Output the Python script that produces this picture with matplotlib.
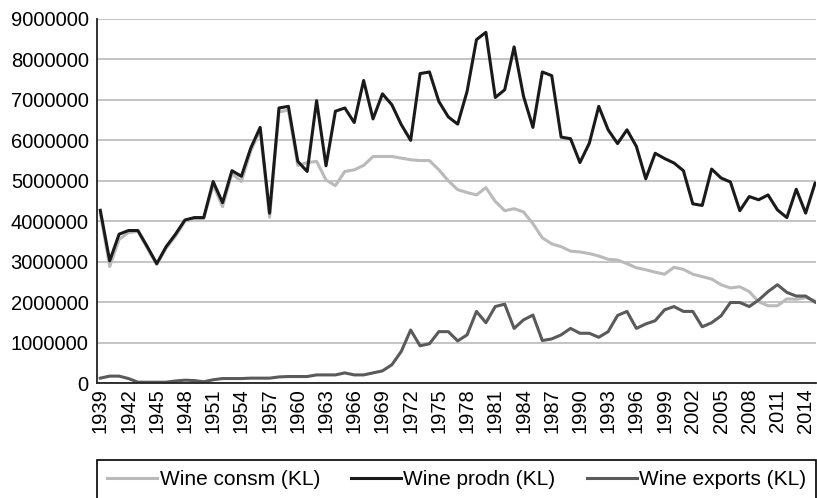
import numpy as np
import matplotlib
matplotlib.use("Agg")
import matplotlib.pyplot as plt

plt.rcParams['font.family'] = ['Liberation Sans', 'DejaVu Sans']

# years on the category axis
years = list(range(1939, 2016))

# values, in millions of KL
consm = [4.20, 2.88, 3.55, 3.72, 3.75, 3.33, 2.93, 3.33, 3.63, 4.00,
         4.07, 4.07, 4.90, 4.36, 5.18, 4.98, 5.74, 6.25, 4.10, 6.70,
         6.75, 5.38, 5.45, 5.48, 5.02, 4.88, 5.23, 5.27, 5.38, 5.60,
         5.60, 5.60, 5.56, 5.52, 5.50, 5.50, 5.27, 5.00, 4.78, 4.71,
         4.65, 4.83, 4.49, 4.26, 4.31, 4.23, 3.94, 3.59, 3.44, 3.37,
         3.26, 3.24, 3.20, 3.14, 3.06, 3.04, 2.95, 2.85, 2.80, 2.74,
         2.69, 2.86, 2.81, 2.69, 2.63, 2.57, 2.43, 2.35, 2.38, 2.26,
         2.01, 1.91, 1.91, 2.08, 2.07, 2.11, 2.03]

prodn = [4.27, 3.02, 3.68, 3.77, 3.77, 3.37, 2.95, 3.37, 3.68, 4.03,
         4.09, 4.09, 4.98, 4.46, 5.25, 5.11, 5.81, 6.32, 4.20, 6.80,
         6.84, 5.48, 5.23, 6.98, 5.37, 6.72, 6.80, 6.44, 7.48, 6.53,
         7.15, 6.88, 6.39, 6.00, 7.65, 7.69, 6.96, 6.58, 6.40, 7.21,
         8.49, 8.67, 7.06, 7.25, 8.31, 7.09, 6.32, 7.69, 7.60, 6.08,
         6.04, 5.45, 5.93, 6.84, 6.26, 5.92, 6.26, 5.85, 5.05, 5.68,
         5.55, 5.44, 5.25, 4.43, 4.39, 5.29, 5.07, 4.97, 4.26, 4.61,
         4.53, 4.65, 4.28, 4.09, 4.79, 4.20, 4.94]

exports = [0.12, 0.17, 0.17, 0.11, 0.02, 0.02, 0.02, 0.02, 0.05, 0.07,
           0.06, 0.03, 0.08, 0.11, 0.11, 0.11, 0.12, 0.12, 0.12, 0.15,
           0.16, 0.16, 0.16, 0.20, 0.20, 0.20, 0.25, 0.20, 0.20, 0.25,
           0.30, 0.45, 0.78, 1.31, 0.92, 0.97, 1.27, 1.27, 1.04, 1.19,
           1.77, 1.49, 1.89, 1.95, 1.35, 1.56, 1.68, 1.05, 1.09, 1.19,
           1.35, 1.23, 1.23, 1.13, 1.27, 1.67, 1.77, 1.35, 1.46, 1.54,
           1.81, 1.89, 1.77, 1.77, 1.39, 1.49, 1.66, 1.99, 1.99, 1.89,
           2.05, 2.26, 2.43, 2.24, 2.15, 2.15, 2.00]

fig = plt.figure(figsize=(8.17, 4.98), dpi=100)
ax = fig.add_axes([97 / 817, 1 - 383 / 498, 719 / 817, 364 / 498])

ax.plot(years, np.array(consm) * 1e6, color='#bababa', lw=2.2, label='Wine consm (KL)')
ax.plot(years, np.array(prodn) * 1e6, color='#1a1a1a', lw=2.2, label='Wine prodn (KL)')
ax.plot(years, np.array(exports) * 1e6, color='#5a5a5a', lw=2.2, label='Wine exports (KL)')

ax.set_ylim(0, 9e6)
ax.set_yticks(np.arange(0, 9e6 + 1, 1e6))
ax.set_yticklabels([f"{int(v)}" for v in np.arange(0, 9e6 + 1, 1e6)])
ax.set_xlim(1938.65, 2015.1)
ax.set_xticks(range(1939, 2015, 3))
ax.tick_params(axis='x', labelrotation=90, length=0, pad=4, labelsize=14.5)
ax.tick_params(axis='y', length=0, pad=6, labelsize=14.5)

ax.grid(axis='y', color='#c4c4c4', lw=1.4)
ax.set_axisbelow(True)
for s in ['top', 'right']:
    ax.spines[s].set_visible(False)
ax.spines['left'].set_color('#222222')
ax.spines['bottom'].set_color('#222222')
ax.spines['left'].set_linewidth(1.3)
ax.spines['bottom'].set_linewidth(1.3)

leg = fig.legend(loc='upper left', bbox_to_anchor=(97 / 817, 1 - 460 / 498),
                 ncol=3, fontsize=15, frameon=True, fancybox=False,
                 edgecolor='black', framealpha=1, borderaxespad=0,
                 handlelength=2.4, handletextpad=0.1, columnspacing=1.5,
                 borderpad=0.5)
leg.get_frame().set_linewidth(1.2)

fig.savefig('out.png', dpi=100)
